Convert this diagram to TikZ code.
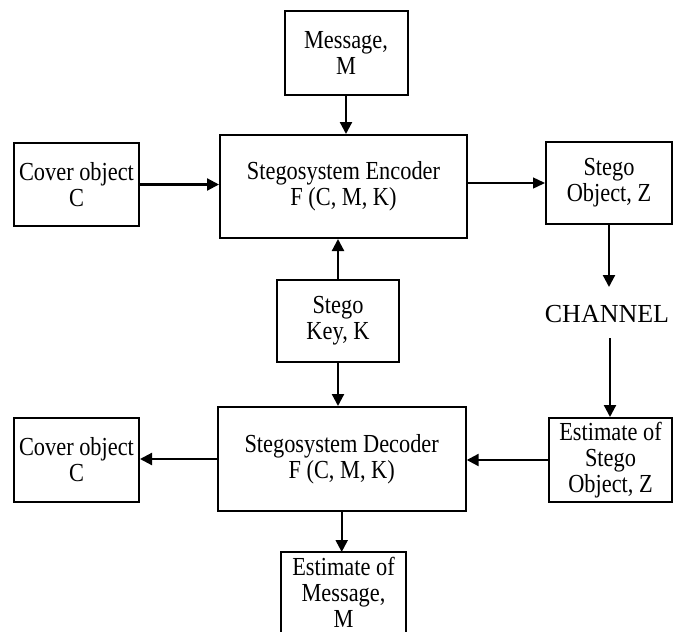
\documentclass[tikz,border=0pt]{standalone}
\usepackage{fontspec}
\setmainfont{Liberation Serif}[FakeStretch=0.86]
\newfontfamily\chfont{Liberation Serif}
\usetikzlibrary{arrows.meta}
\begin{document}
\begin{tikzpicture}[x=1pt,y=-1pt,
  box/.style={draw, line width=2pt, align=center, inner sep=0pt,
    font=\fontsize{26}{26}\selectfont},
  frame/.style={line width=2pt},
  arr/.style={line width=2.2pt, -{Triangle[length=12pt,width=12pt]}},
  thinarr/.style={line width=1.4pt, -{Triangle[length=12pt,width=11pt]}}]
\useasboundingbox (0,0) rectangle (673,632);
\clip (0,0) rectangle (673,632);
\node[box, minimum width=123pt, minimum height=84pt] (msg) at (346,53) {Message,\\M};
\node[box, minimum width=247pt, minimum height=103pt] (enc) at (343.5,186.5) {Stegosystem Encoder\\F (C, M, K)};
\node[box, minimum width=125pt, minimum height=83pt] (cov1) at (76.5,184.5) {Cover object\\C};
\node[box, minimum width=126pt, minimum height=82pt] (sz) at (609,183) {Stego\\Object, Z};
\node[box, minimum width=122pt, minimum height=82pt] (key) at (338,321) {Stego\\Key, K};
\node[anchor=base, inner sep=0pt, font=\chfont\fontsize{26}{26}\selectfont] (ch) at (607,322) {CHANNEL};
\node[box, minimum width=248pt, minimum height=104pt] (dec) at (341.7,459) {Stegosystem Decoder\\F (C, M, K)};
\node[box, minimum width=125pt, minimum height=84pt] (cov2) at (76.5,460) {Cover object\\C};
\node[box, minimum width=123pt, minimum height=84pt] (esz) at (610.5,460) {Estimate of\\Stego\\Object, Z};
\node[box, draw=none, minimum width=123pt, minimum height=78pt] (em) at (343.5,592) {Estimate of\\Message,\\M};
\draw[frame] ([yshift=-12pt]em.south west) -- (em.north west) -- (em.north east) -- ([yshift=-12pt]em.south east);
\coordinate (chTop) at (609,287);
\coordinate (chBot) at (610,338);
\draw[arr] (msg.south) -- (msg.south |- enc.north);
\draw[arr] (cov1.east) -- (cov1.east -| enc.west);
\draw[thinarr] (sz.west -| enc.east) -- (sz.west);
\draw[arr] (sz.south) -- (chTop);
\draw[arr] (chBot) -- (esz.north -| chBot);
\draw[arr] (key.north) -- (key.north |- enc.south);
\draw[arr] (key.south) -- (key.south |- dec.north);
\draw[arr] (esz.west) -- (esz.west -| dec.east);
\draw[arr] (dec.west) -- (dec.west -| cov2.east);
\draw[arr] (dec.south) -- (dec.south |- em.north);
\end{tikzpicture}
\end{document}
